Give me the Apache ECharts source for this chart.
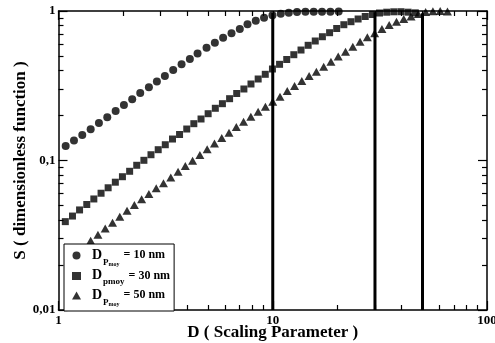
<!DOCTYPE html>
<html>
<head>
<meta charset="utf-8">
<script src="https://cdn.jsdelivr.net/npm/echarts@6/dist/echarts.min.js"></script>
<style>
  html, body { margin: 0; padding: 0; background: #fff; }
  #chart { width: 495px; height: 343px; }
</style>
</head>
<body>
<div id="chart"></div>
<script>
// Dp moy = 10 nm (circles)
var d10 = [1.08, 1.181, 1.291, 1.413, 1.544, 1.689, 1.848, 2.02, 2.208, 2.407,
  2.642, 2.879, 3.137, 3.43, 3.753, 4.103, 4.457, 4.909, 5.367, 5.866,
  6.42, 7.018, 7.623, 8.332, 9.107, 9.968, 10.9, 11.88, 12.98, 14.21,
  15.53, 16.98, 18.58, 20.31];
var s10 = [0.125, 0.136, 0.148, 0.162, 0.178, 0.1945, 0.214, 0.235, 0.257, 0.283,
  0.309, 0.337, 0.367, 0.403, 0.44, 0.478, 0.52, 0.568, 0.614, 0.663,
  0.709, 0.758, 0.815, 0.861, 0.902, 0.936, 0.959, 0.974, 0.985, 0.987,
  0.988, 0.99, 0.99, 0.992];

// Dp moy = 30 nm (squares)
var d30 = [1.076, 1.162, 1.254, 1.355, 1.462, 1.58, 1.705, 1.842, 1.988, 2.148,
  2.318, 2.504, 2.702, 2.92, 3.151, 3.404, 3.673, 3.968, 4.282, 4.627,
  4.994, 5.395, 5.822, 6.289, 6.788, 7.334, 7.914, 8.55, 9.228, 9.968,
  10.76, 11.62, 12.54, 13.55, 14.63, 15.79, 17.05, 18.42, 19.88, 21.47,
  23.18, 25.03, 27.02, 29.19, 31.5, 34.03, 36.73, 39.67, 42.82, 46.27];
var s30 = [0.039, 0.0425, 0.0467, 0.0508, 0.0553, 0.0604, 0.0657, 0.0716, 0.0779, 0.0847,
  0.0929, 0.1003, 0.1093, 0.1181, 0.1275, 0.1392, 0.1492, 0.1624, 0.1763, 0.1895,
  0.2056, 0.2235, 0.2399, 0.2591, 0.2807, 0.3008, 0.3249, 0.3509, 0.3772, 0.4093,
  0.4399, 0.4739, 0.5101, 0.5482, 0.5896, 0.63, 0.6729, 0.7159, 0.7636, 0.8096,
  0.8481, 0.8841, 0.9188, 0.9476, 0.9696, 0.9817, 0.9877, 0.989, 0.982, 0.972];

// Dp moy = 50 nm (triangles)
var d50 = [1.413, 1.528, 1.652, 1.787, 1.932, 2.089, 2.26, 2.443, 2.642, 2.858,
  3.09, 3.342, 3.614, 3.908, 4.226, 4.57, 4.942, 5.344, 5.779, 6.249,
  6.758, 7.308, 7.903, 8.546, 9.242, 9.995, 10.81, 11.69, 12.64, 13.67,
  14.78, 15.98, 17.29, 18.69, 20.21, 21.86, 23.64, 25.56, 27.64, 29.9,
  32.33, 34.96, 37.81, 40.88, 44.21, 47.81, 51.7, 55.91, 60.46, 65.38];
var s50 = [0.0291, 0.0319, 0.0351, 0.0384, 0.0421, 0.0462, 0.0504, 0.055, 0.0597, 0.0652,
  0.0704, 0.077, 0.0841, 0.0919, 0.0997, 0.1088, 0.1188, 0.1299, 0.1414, 0.1535,
  0.1675, 0.1818, 0.1963, 0.212, 0.2291, 0.2473, 0.2672, 0.2917, 0.315, 0.3402,
  0.3674, 0.3926, 0.424, 0.458, 0.4962, 0.5342, 0.577, 0.6232, 0.667, 0.7093,
  0.7578, 0.806, 0.8481, 0.8841, 0.9188, 0.9548, 0.9847, 0.998, 1.0, 0.992];

// vertical guide lines at D = 10, 30, 50
var guideD = [10, 30, 50];
var guideTop = [0.97, 0.98, 0.965];

// ticks & labels
var xMajor = [1, 10, 100];
var xLabels = ['1', '10', '100'];
var xMinor = [2, 3, 4, 5, 6, 7, 8, 9, 20, 30, 40, 50, 60, 70, 80, 90];
var yMajor = [0.01, 0.1, 1];
var yLabels = ['0,01', '0,1', '1'];
var yMinor = [0.02, 0.03, 0.04, 0.05, 0.06, 0.07, 0.08, 0.09, 0.2, 0.3, 0.4, 0.5, 0.6, 0.7, 0.8, 0.9];

var names = ['Dp10', 'Dp30', 'Dp50'];
var legendText = [
  '{d|D}{p|P}{m|moy}{t|= 10 nm}',
  '{d|D}{pm|pmoy}{t|= 30 nm}',
  '{d|D}{p|P}{m|moy}{t|= 50 nm}'
];

var FONT = 'Liberation Serif';

function pick(vals, labels, v) {
  for (var i = 0; i < vals.length; i++) {
    if (Math.abs(Math.log(v) - Math.log(vals[i])) < 1e-6) return labels[i];
  }
  return '';
}

function zip(a, b) {
  return a.map(function (v, i) { return [v, b[i]]; });
}

function axis(dim, pos, major, name) {
  var isX = dim === 'x';
  var a = {
    type: 'log',
    logBase: 10,
    min: isX ? 1 : 0.01,
    max: isX ? 100 : 1,
    position: pos,
    splitLine: { show: false },
    axisLine: { show: major, lineStyle: { color: '#000', width: 1.5 } },
    axisTick: {
      inside: true,
      length: major ? 9 : 5,
      lineStyle: { color: '#000', width: 1.2 },
      customValues: major ? (isX ? xMajor : yMajor) : (isX ? xMinor : yMinor)
    },
    axisLabel: { show: false }
  };
  if (name) {
    a.axisLabel = {
      show: true,
      customValues: isX ? xMajor : yMajor,
      color: '#000',
      fontFamily: FONT,
      fontWeight: 'bold',
      fontSize: 13,
      margin: isX ? 4 : 3,
      formatter: function (v) {
        return isX ? pick(xMajor, xLabels, v) : pick(yMajor, yLabels, v);
      }
    };
    a.name = name;
    a.nameLocation = 'middle';
    a.nameMoveOverlap = false;
    a.nameGap = isX ? 14 : 29;
    a.nameTextStyle = { color: '#000', fontFamily: FONT, fontWeight: 'bold', fontSize: 17 };
  }
  return a;
}

var chart = echarts.init(document.getElementById('chart'));

var series = [
  { name: names[0], type: 'scatter', symbol: 'circle', symbolSize: 8, data: zip(d10, s10) },
  { name: names[1], type: 'scatter', symbol: 'rect', symbolSize: 7, data: zip(d30, s30) },
  { name: names[2], type: 'scatter', symbol: 'triangle', symbolSize: [9, 8], data: zip(d50, s50) }
].map(function (s) {
  s.itemStyle = { color: '#000' };
  s.clip = false;
  s.z = 3;
  return s;
});

guideD.forEach(function (d, i) {
  series.push({
    name: 'guide' + i,
    type: 'line',
    data: [[d, 0.01], [d, guideTop[i]]],
    symbol: 'none',
    lineStyle: { color: '#000', width: 3 },
    silent: true,
    z: 2
  });
});

var option = {
  animation: false,
  backgroundColor: '#fff',
  grid: { left: 58.5, right: 8, top: 11, bottom: 33, outerBoundsMode: 'none' },
  xAxis: [
    axis('x', 'bottom', true, 'D ( Scaling Parameter )'),
    axis('x', 'bottom', false),
    axis('x', 'top', true),
    axis('x', 'top', false)
  ],
  yAxis: [
    axis('y', 'left', true, 'S ( dimensionless function )'),
    axis('y', 'left', false),
    axis('y', 'right', true),
    axis('y', 'right', false)
  ],
  legend: {
    orient: 'vertical',
    left: 64,
    top: 244,
    padding: [4, 4, 4, 8],
    itemGap: 1.5,
    itemWidth: 9,
    itemHeight: 8,
    borderColor: '#000',
    borderWidth: 1,
    borderRadius: 0,
    backgroundColor: '#fff',
    selectedMode: false,
    data: [
      { name: names[0], icon: 'circle' },
      { name: names[1], icon: 'rect' },
      { name: names[2], icon: 'triangle' }
    ],
    formatter: function (n) { return legendText[names.indexOf(n)]; },
    textStyle: {
      color: '#000',
      fontFamily: FONT,
      fontWeight: 'bold',
      rich: {
        d: { fontFamily: FONT, fontWeight: 'bold', fontSize: 14, lineHeight: 15, verticalAlign: 'top', padding: [0, 0, 0, 6] },
        t: { fontFamily: FONT, fontWeight: 'bold', fontSize: 12, lineHeight: 15, verticalAlign: 'top', padding: [1, 0, 0, 4] },
        p: { fontFamily: FONT, fontWeight: 'bold', fontSize: 9, lineHeight: 9, verticalAlign: 'top', padding: [10, 0, 0, 1] },
        m: { fontFamily: FONT, fontWeight: 'bold', fontSize: 6, lineHeight: 6, verticalAlign: 'top', padding: [13, 0, 0, 0] },
        pm: { fontFamily: FONT, fontWeight: 'bold', fontSize: 9, lineHeight: 9, verticalAlign: 'top', padding: [9, 0, 0, 1] }
      }
    }
  },
  series: series
};

chart.setOption(option);
</script>
</body>
</html>
